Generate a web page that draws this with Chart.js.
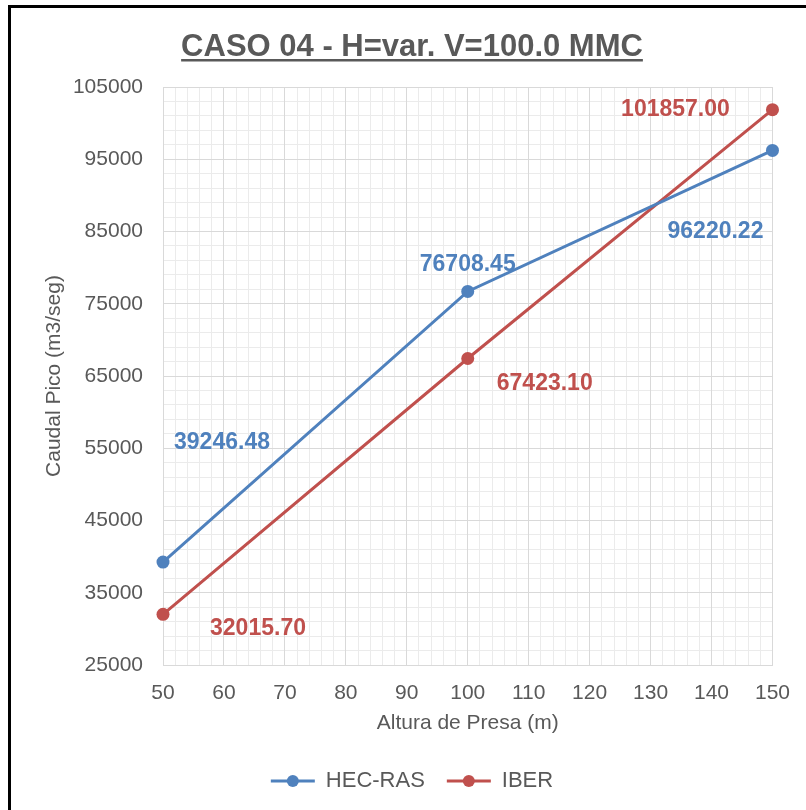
<!DOCTYPE html>
<html>
<head>
<meta charset="utf-8">
<script src="https://cdn.jsdelivr.net/npm/chart.js@4.4.1/dist/chart.umd.min.js"></script>
<style>
  html, body { margin: 0; padding: 0; background: #fff; overflow: hidden; }
  #marco { position: absolute; left: 8px; top: 5px; width: 820px; height: 820px;
           border-left: 3px solid #000; border-top: 3px solid #000; }
  #caja { position: absolute; left: 0; top: 0; width: 806px; height: 810px; }
</style>
</head>
<body>
<div id="marco"></div>
<div id="caja"><canvas id="caso04" width="806" height="810"></canvas></div>
<script>
// Caso 04: caudal pico vs altura de presa, volumen 100 MMC
const titulo = "CASO 04 - H=var. V=100.0 MMC";
const alturas = [50, 100, 150];
const hecRas = [39246.48, 76708.45, 96220.22];
const iber = [32015.70, 67423.10, 101857.00];
const xTicks = [50, 60, 70, 80, 90, 100, 110, 120, 130, 140, 150];
const yTicks = [25000, 35000, 45000, 55000, 65000, 75000, 85000, 95000, 105000];

const AZUL = "#4f81bd";
const ROJO = "#c0504d";
const GRIS = "#595959";
const FUENTE = "'Liberation Sans', Arial, sans-serif";

// desplazamiento de cada etiqueta respecto a su punto
const despl = [
  [[59, -119], [0, -27], [-57, 81]],
  [[95, 14], [77, 25], [-97, 0]],
];

const etiquetas = {
  id: "etiquetas",
  afterDatasetsDraw(chart) {
    const ctx = chart.ctx;
    ctx.save();
    ctx.font = "bold 23px " + FUENTE;
    ctx.textAlign = "center";
    ctx.textBaseline = "middle";
    chart.data.datasets.forEach((ds, i) => {
      ctx.fillStyle = ds.borderColor;
      chart.getDatasetMeta(i).data.forEach((pt, j) => {
        const [dx, dy] = despl[i][j];
        ctx.fillText(ds.data[j].y.toFixed(2), pt.x + dx, pt.y + dy);
      });
    });
    ctx.restore();
  },
};

const encabezado = {
  id: "encabezado",
  afterDraw(chart) {
    const ctx = chart.ctx;
    ctx.save();
    ctx.font = "bold 31px " + FUENTE;
    ctx.fillStyle = GRIS;
    ctx.textAlign = "center";
    ctx.textBaseline = "alphabetic";
    const cx = 412;
    ctx.fillText(titulo, cx, 56);
    const w = ctx.measureText(titulo).width;
    ctx.fillRect(cx - w / 2, 59, w, 2.5);
    ctx.restore();
  },
};

// símbolo de la leyenda: línea con marcador
const simbolos = {
  id: "simbolos",
  afterDraw(chart) {
    const ctx = chart.ctx;
    const cajas = chart.legend.legendHitBoxes;
    ctx.save();
    cajas.forEach((b, i) => {
      const c = chart.data.datasets[i].borderColor;
      const y = b.top + b.height / 2;
      ctx.strokeStyle = c;
      ctx.fillStyle = c;
      ctx.lineWidth = 3;
      ctx.beginPath();
      ctx.moveTo(b.left, y);
      ctx.lineTo(b.left + 44, y);
      ctx.stroke();
      ctx.beginPath();
      ctx.arc(b.left + 22, y, 6, 0, Math.PI * 2);
      ctx.fill();
    });
    ctx.restore();
  },
};

const serie = (nombre, valores, color) => ({
  label: nombre,
  data: alturas.map((x, k) => ({ x: x, y: valores[k] })),
  borderColor: color,
  backgroundColor: color,
  borderWidth: 3,
  pointRadius: 6.5,
  pointBackgroundColor: color,
  pointBorderWidth: 0,
  tension: 0,
  clip: false,
});

new Chart(document.getElementById("caso04"), {
  type: "line",
  data: {
    datasets: [serie("HEC-RAS", hecRas, AZUL), serie("IBER", iber, ROJO)],
  },
  plugins: [etiquetas, encabezado, simbolos],
  options: {
    responsive: false,
    devicePixelRatio: 1,
    animation: false,
    layout: { padding: { top: 87, left: 51, right: 33, bottom: 8 } },
    plugins: {
      title: { display: false },
      tooltip: { enabled: false },
      legend: {
        position: "bottom",
        labels: {
          boxWidth: 44,
          boxHeight: 3,
          padding: 22,
          color: GRIS,
          font: { family: FUENTE, size: 22 },
          generateLabels(chart) {
            return Chart.defaults.plugins.legend.labels
              .generateLabels(chart)
              .map((l) => ({ ...l, fillStyle: "rgba(0,0,0,0)", strokeStyle: "rgba(0,0,0,0)", lineWidth: 0 }));
          },
        },
      },
    },
    scales: {
      xMenor: {
        type: "linear",
        position: "bottom",
        min: 50,
        max: 150,
        z: -1,
        afterBuildTicks: (s) => {
          s.ticks = [];
          for (let v = 50; v <= 150; v += 2) s.ticks.push({ value: v });
        },
        ticks: { display: false },
        grid: { color: "#ebebeb", drawTicks: false },
        border: { display: false },
        afterFit: (s) => { s.height = 0; },
      },
      yMenor: {
        type: "linear",
        position: "left",
        min: 25000,
        max: 105000,
        z: -1,
        afterBuildTicks: (s) => {
          s.ticks = [];
          for (let v = 25000; v <= 105000; v += 2000) s.ticks.push({ value: v });
        },
        ticks: { display: false },
        grid: { color: "#ebebeb", drawTicks: false },
        border: { display: false },
        afterFit: (s) => { s.width = 0; },
      },
      x: {
        type: "linear",
        position: "bottom",
        min: 50,
        max: 150,
        afterBuildTicks: (s) => { s.ticks = xTicks.map((v) => ({ value: v })); },
        ticks: {
          padding: 16,
          color: GRIS,
          font: { family: FUENTE, size: 21 },
          callback: (v) => String(v),
        },
        grid: { color: "#d9d9d9", drawTicks: false },
        border: { color: "#d9d9d9" },
        title: {
          display: true,
          text: "Altura de Presa (m)",
          color: GRIS,
          font: { family: FUENTE, size: 21 },
          padding: { top: 0, bottom: 12 },
        },
        afterFit: (s) => { s.height = 83; },
      },
      y: {
        type: "linear",
        position: "left",
        min: 25000,
        max: 105000,
        afterBuildTicks: (s) => { s.ticks = yTicks.map((v) => ({ value: v })); },
        ticks: {
          padding: 20,
          color: GRIS,
          font: { family: FUENTE, size: 21 },
          callback: (v) => String(v),
        },
        grid: { color: "#d9d9d9", drawTicks: false },
        border: { color: "#d9d9d9" },
        title: {
          display: true,
          text: "Caudal Pico (m3/seg)",
          color: GRIS,
          font: { family: FUENTE, size: 21 },
          padding: { top: -9, bottom: 0 },
        },
        afterFit: (s) => { s.width = 112; },
      },
    },
  },
});
</script>
</body>
</html>
